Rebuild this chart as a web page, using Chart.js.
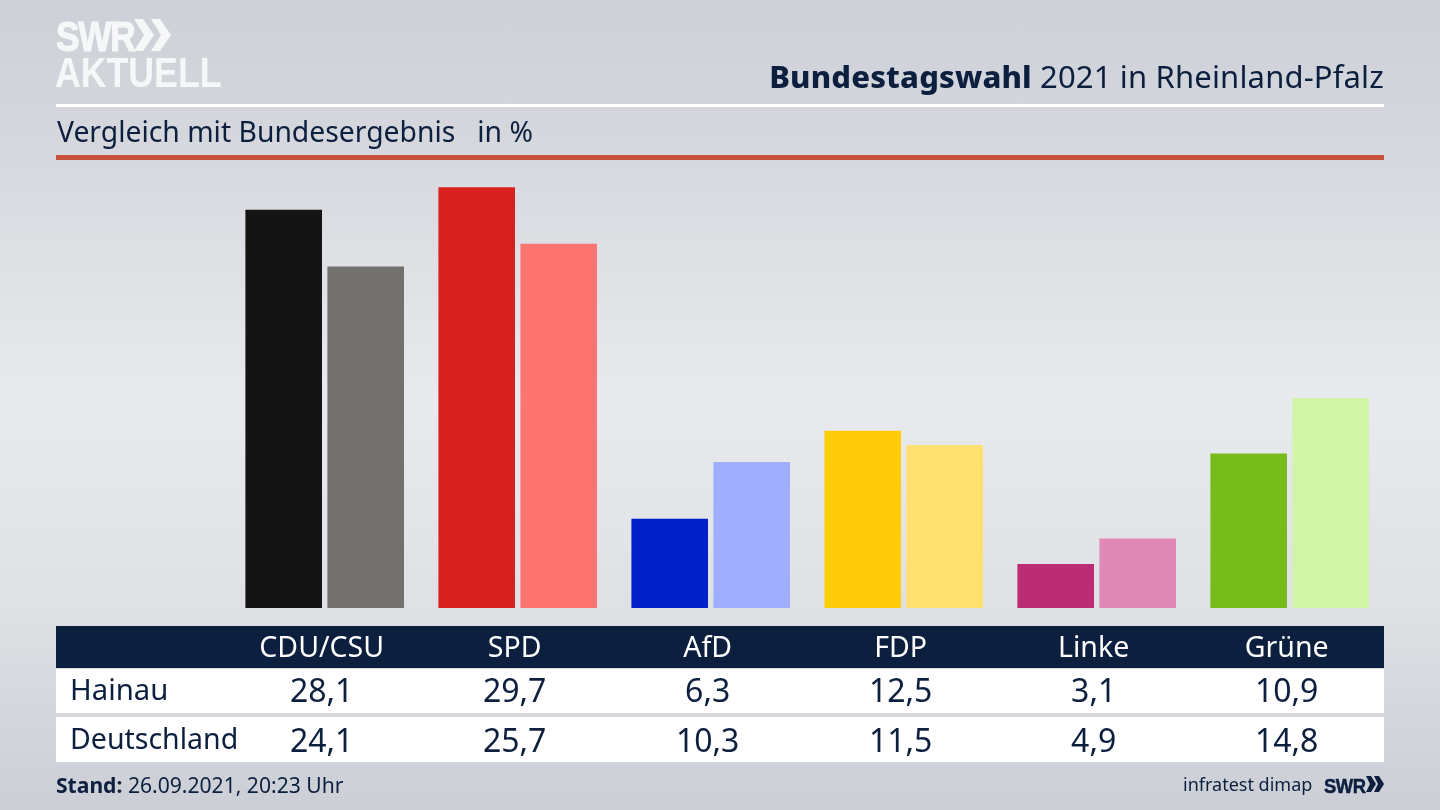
<!DOCTYPE html>
<html lang="de"><head><meta charset="utf-8">
<script src="https://cdn.jsdelivr.net/npm/chart.js@4"></script>
<style>
html,body{margin:0;padding:0;width:1440px;height:810px;overflow:hidden}
body{position:relative;font-family:"Noto Sans",sans-serif;color:#0c1f3f;
background:linear-gradient(180deg,#cdd0d7 0,#d6d8de 150px,#e9eaed 400px,#dfe1e5 600px,#cbced5 810px)}
#c{position:absolute;left:0;top:0;width:1440px;height:810px}
.a{position:absolute;white-space:nowrap;line-height:1}
.rule{position:absolute;left:56px;width:1328px}
.row{position:absolute;left:56px;width:1328px}
.cell{position:absolute;transform:translateX(-50%);white-space:nowrap;line-height:1}
</style></head><body>
<canvas id="c" width="1440" height="810"></canvas>
<div class="a" style="left:56px;top:12px;font:700 43px 'Liberation Sans';color:#f6f7f8;-webkit-text-stroke:1.2px #f6f7f8;letter-spacing:-1.5px;transform:scaleX(.82);transform-origin:left">SWR</div>
<svg class="a" style="left:134px;top:19px" width="38" height="34"><path d="M0 0h9l11 16-11 16H0l10-16zM17 0h9l11 16-11 16h-9l10-16z" fill="#f6f7f8"/></svg>
<div class="a" style="left:55px;top:48px;font:700 43px 'Liberation Sans';color:#f6f7f8;letter-spacing:0;transform:scaleX(.83);transform-origin:left">AKTUELL</div>
<div class="a" style="right:56px;top:61px;font-size:31px;letter-spacing:.16px"><b style="font-weight:800">Bundestagswahl</b> 2021 in Rheinland-Pfalz</div>
<div class="rule" style="top:104px;height:3px;background:#fff"></div>
<div class="a" style="left:57px;top:117px;font-size:28.3px;white-space:pre">Vergleich mit Bundesergebnis   in %</div>
<div class="rule" style="top:155px;height:5px;background:#c8503c"></div>
<div class="row" style="top:626px;height:42px;background:#0c1f3f"></div>
<div class="row" style="top:669px;height:44px;background:#fff"></div>
<div class="row" style="top:717px;height:45px;background:#fff"></div>
<div id="tbl"></div>
<div class="a" style="left:56px;top:774px;font-size:21.1px"><b>Stand:</b> 26.09.2021, 20:23 Uhr</div>
<div class="a" style="left:1183px;top:775px;font-size:18px">infratest dimap</div>
<div class="a" style="left:1324px;top:775px;font:700 20px 'Liberation Sans';-webkit-text-stroke:.5px #0c1f3f;letter-spacing:-.5px;transform:scaleX(.92);transform-origin:left">SWR</div>
<svg class="a" style="left:1366px;top:776px" width="18" height="17"><path d="M0 0h5l5 8-5 8H0l4-8zM8 0h5l5 8-5 8H8l4-8z" fill="#0c1f3f"/></svg>
<script>
const categories=["CDU/CSU","SPD","AfD","FDP","Linke","Grüne"];
const seriesNames=["Hainau","Deutschland"];
const hainau=[28.1,29.7,6.3,12.5,3.1,10.9];
const deutschland=[24.1,25.7,10.3,11.5,4.9,14.8];
const hainauColors=["#141414","#d8201f","#0020c8","#ffcc0a","#bb2c75","#78bc1c"];
const deutschlandColors=["#72716e","#ff7370","#a0aeff","#ffe070","#e088b6","#d2f5a5"];
const fmt=v=>v.toFixed(1).replace(".",",");
Chart.defaults.animation=false;
const chart=new Chart(document.getElementById("c"),{
  type:"bar",
  data:{labels:categories,datasets:[
    {label:seriesNames[0],data:hainau,backgroundColor:hainauColors},
    {label:seriesNames[1],data:deutschland,backgroundColor:deutschlandColors}
  ]},
  options:{responsive:false,devicePixelRatio:1,
    layout:{padding:{left:228.2,right:53.8,top:168,bottom:202}},
    datasets:{bar:{categoryPercentage:164/193,barPercentage:76.6/82,borderWidth:0}},
    plugins:{legend:{display:false},tooltip:{enabled:false},title:{display:false}},
    scales:{
      x:{display:false,grid:{display:false}},
      y:{display:false,min:0,max:31.05,grid:{display:false}}
    }}
});
const tbl=document.getElementById("tbl");
function put(text,x,top,size,color,left){
  const d=document.createElement("div");
  d.className=left?"a":"cell";
  d.textContent=text;
  d.style.cssText+=`left:${x}px;top:${top}px;font-size:${size}px;color:${color}`;
  tbl.appendChild(d);
}
put(seriesNames[0],70,675,29.3,"#0c1f3f",true);
put(seriesNames[1],70,724,28.5,"#0c1f3f",true);
categories.forEach((c,i)=>{
  const x=chart.scales.x.getPixelForValue(i);
  put(c,x-3,632,28.5,"#fff");
  put(fmt(hainau[i]),x-3,674,32,"#0c1f3f");
  put(fmt(deutschland[i]),x-3,724,32,"#0c1f3f");
});
</script>
</body></html>
